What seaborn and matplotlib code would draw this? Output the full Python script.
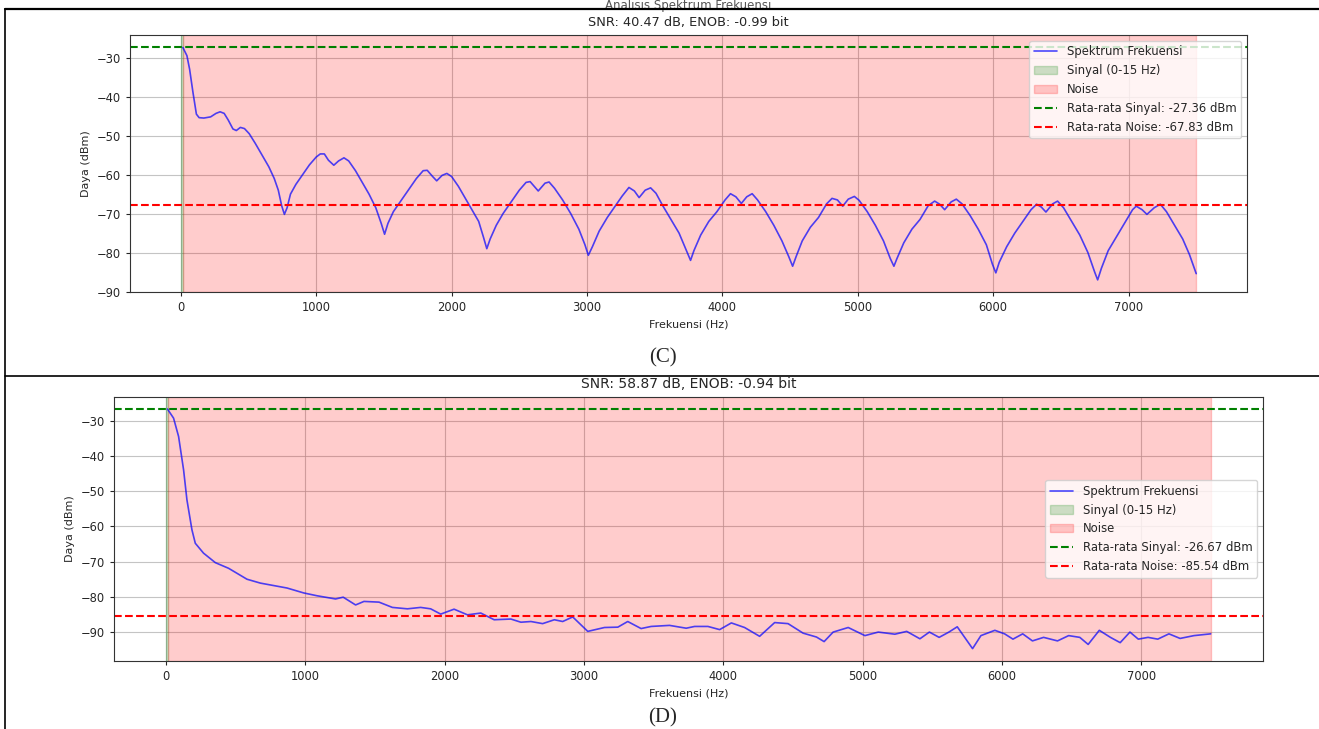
import numpy as np
import pandas as pd
import seaborn as sns
import matplotlib.pyplot as plt
from matplotlib.lines import Line2D

sns.set_style("ticks")
plt.rcParams['font.family'] = ['DejaVu Sans']

# Panel (C) spectrum
freq_c = [15, 45, 65, 90, 115, 135, 170, 220, 260, 290, 320, 350, 385, 410, 440, 470, 505,
          550, 600, 650, 690, 720, 745, 765, 785, 810, 850, 900, 950, 1000, 1030, 1060, 1090,
          1130, 1165, 1205, 1240, 1290, 1340, 1390, 1440, 1480, 1505, 1530, 1570, 1620, 1680,
          1740, 1790, 1820, 1860, 1890, 1930, 1965, 2000, 2050, 2100, 2150, 2200, 2235, 2260,
          2285, 2330, 2380, 2440, 2500, 2550, 2580, 2640, 2690, 2720, 2760, 2820, 2880, 2940,
          2985, 3010, 3040, 3090, 3150, 3200, 3260, 3310, 3350, 3385, 3430, 3470, 3510, 3560,
          3620, 3680, 3735, 3765, 3790, 3840, 3900, 3960, 4020, 4060, 4100, 4140, 4180, 4220,
          4260, 4320, 4380, 4440, 4490, 4519, 4545, 4590, 4650, 4710, 4770, 4810, 4850, 4889,
          4930, 4975, 5010, 5070, 5130, 5190, 5240, 5267, 5290, 5340, 5400, 5460, 5520, 5568,
          5605, 5642, 5690, 5728, 5770, 5830, 5890, 5950, 5995, 6020, 6045, 6100, 6160, 6220,
          6280, 6321, 6355, 6390, 6440, 6476, 6520, 6580, 6640, 6700, 6750, 6772, 6800, 6850,
          6910, 6970, 7030, 7057, 7100, 7136, 7190, 7235, 7280, 7340, 7400, 7450, 7500]
power_c = [-27.4, -29.5, -33, -39, -44.5, -45.4, -45.5, -45.2, -44.3, -43.9, -44.3, -46, -48.3,
           -48.7, -47.9, -48.2, -49.5, -52, -55, -58, -61, -64, -68, -70.2, -68.5, -65, -62.5,
           -60, -57.5, -55.5, -54.7, -54.7, -56.3, -57.6, -56.5, -55.7, -56.5, -59, -62, -65,
           -68.5, -72.5, -75.3, -72.5, -69.5, -67, -64, -61, -59, -58.9, -60.5, -61.6, -60.2,
           -59.7, -60.5, -63, -66, -69, -72, -76, -79, -76.5, -73, -70, -67, -64, -62, -61.8,
           -64.2, -62.2, -61.9, -63.5, -66.5, -70, -74, -78, -80.7, -78.5, -74.5, -71, -68.5,
           -65.5, -63.3, -64.2, -65.9, -64, -63.4, -64.8, -68, -71.5, -75, -79.5, -82, -79.5,
           -75.5, -72, -69.5, -66.5, -64.9, -65.7, -67.4, -65.7, -64.9, -66.5, -69.5, -73, -77,
           -81, -83.5, -81, -77, -73.5, -71, -67.5, -66.1, -66.5, -68.1, -66.3, -65.6, -66.6,
           -69.5, -73, -77, -81.5, -83.5, -81.5, -77.5, -74, -71.5, -68, -66.8, -67.6, -69,
           -67, -66.3, -67.5, -70.5, -74, -78, -83, -85.2, -82.5, -78.5, -75, -72, -69, -67.6,
           -68.3, -69.6, -67.5, -66.8, -68.5, -72, -75.5, -80, -85, -87, -84, -79.5, -76,
           -72.5, -69, -68.1, -69, -70.2, -68.5, -67.6, -69.5, -73, -76.5, -80.5, -85.4]

# Panel (D) spectrum
freq_d = [9, 53, 89, 125, 149, 185, 209, 268, 353, 448, 580, 676, 772, 868, 988, 1084, 1216,
          1271, 1360, 1420, 1528, 1624, 1732, 1827, 1899, 1971, 2067, 2163, 2259, 2355, 2475,
          2547, 2619, 2703, 2787, 2847, 2919, 3027, 3147, 3243, 3314, 3410, 3482, 3614, 3734,
          3794, 3890, 3974, 4058, 4153, 4261, 4369, 4465, 4573, 4669, 4724, 4789, 4897, 5017,
          5113, 5232, 5317, 5412, 5480, 5550, 5620, 5680, 5760, 5790, 5850, 5950, 6020, 6080,
          6150, 6220, 6300, 6400, 6480, 6560, 6620, 6700, 6780, 6850, 6920, 6980, 7050, 7120,
          7200, 7280, 7380, 7500]
power_d = [-26.7, -29.3, -34.5, -44, -52.5, -61, -64.8, -67.6, -70.3, -71.9, -75, -76.1, -76.8,
           -77.5, -78.9, -79.7, -80.6, -80.1, -82.3, -81.3, -81.5, -83, -83.4, -83, -83.4, -84.9,
           -83.5, -85.1, -84.6, -86.5, -86.3, -87.2, -87, -87.6, -86.5, -87, -85.7, -89.8, -88.7,
           -88.6, -87, -89, -88.4, -88.1, -88.9, -88.4, -88.4, -89.3, -87.4, -88.7, -91.2, -87.3,
           -87.6, -90.3, -91.4, -92.7, -90, -88.7, -91, -90, -90.6, -89.8, -91.9, -90, -91.5,
           -90, -88.5, -93, -94.7, -91, -89.5, -90.5, -92, -90.5, -92.5, -91.5, -92.5, -91,
           -91.5, -93.5, -89.5, -91.5, -93, -90, -92, -91.5, -92, -90.5, -91.8, -91, -90.5]

signal_avg = [-27.36, -26.67]
noise_avg = [-67.83, -85.54]
main_title = "Analisis Spektrum Frekuensi"
titles = ["SNR: 40.47 dB, ENOB: -0.99 bit", "SNR: 58.87 dB, ENOB: -0.94 bit"]
captions = ["(C)", "(D)"]

fig = plt.figure(figsize=(13.19, 7.29), dpi=100)
ax_c = fig.add_axes([0.0986, 0.5995, 0.8468, 0.3525])
ax_d = fig.add_axes([0.0864, 0.0933, 0.8711, 0.3621])

panels = [(ax_c, freq_c, power_c, (-90.1, -24.2), 'upper right', 9.3),
          (ax_d, freq_d, power_d, (-98.2, -23.3), 'center right', 10)]

for i, (ax, f, p, ylim, loc, tsize) in enumerate(panels):
    df = pd.DataFrame({'Frekuensi': f, 'Daya': p})
    sns.lineplot(data=df, x='Frekuensi', y='Daya', ax=ax, color='blue', alpha=0.7,
                 linewidth=1.2, label='Spektrum Frekuensi')
    ax.axvspan(0, 15, color='green', alpha=0.2, label='Sinyal (0-15 Hz)')
    ax.axvspan(15, 7500, color='red', alpha=0.2, label='Noise')
    ax.axhline(signal_avg[i], color='green', linestyle='--',
               label=f'Rata-rata Sinyal: {signal_avg[i]:.2f} dBm')
    ax.axhline(noise_avg[i], color='red', linestyle='--',
               label=f'Rata-rata Noise: {noise_avg[i]:.2f} dBm')
    ax.set_xlim(-375, 7875)
    ax.set_ylim(*ylim)
    ax.set_xticks([0, 1000, 2000, 3000, 4000, 5000, 6000, 7000])
    ax.grid(True, color='#b0b0b0', linewidth=0.8, alpha=0.75)
    ax.set_title(titles[i], fontsize=tsize, pad=6.5)
    ax.set_xlabel('Frekuensi (Hz)', fontsize=8)
    ax.set_ylabel('Daya (dBm)', fontsize=8)
    ax.tick_params(labelsize=8.3, length=3)
    for s in ax.spines.values():
        s.set_color('#333333')
    ax.legend(loc=loc, fontsize=8.4, framealpha=0.8)

# main title (half hidden by the table border), captions and borders of the composite
fig.text(688 / 1319, 1 - 6 / 729, main_title, ha='center', va='center', fontsize=8.5,
         color='#555555')
fig.text(663 / 1319, 1 - 358 / 729, captions[0], ha='center', va='center',
         fontsize=15, family='Liberation Serif')
fig.text(663 / 1319, 1 - 718 / 729, captions[1], ha='center', va='center',
         fontsize=15, family='Liberation Serif')
fig.add_artist(Line2D([5 / 1319, 1], [1 - 9 / 729] * 2, color='black', lw=1.6, zorder=10))
fig.add_artist(Line2D([5 / 1319, 1], [1 - 376 / 729] * 2, color='black', lw=1.2, zorder=10))
fig.add_artist(Line2D([5 / 1319] * 2, [0, 1 - 9 / 729], color='black', lw=1.2, zorder=10))

fig.savefig('out.png', dpi=100)
